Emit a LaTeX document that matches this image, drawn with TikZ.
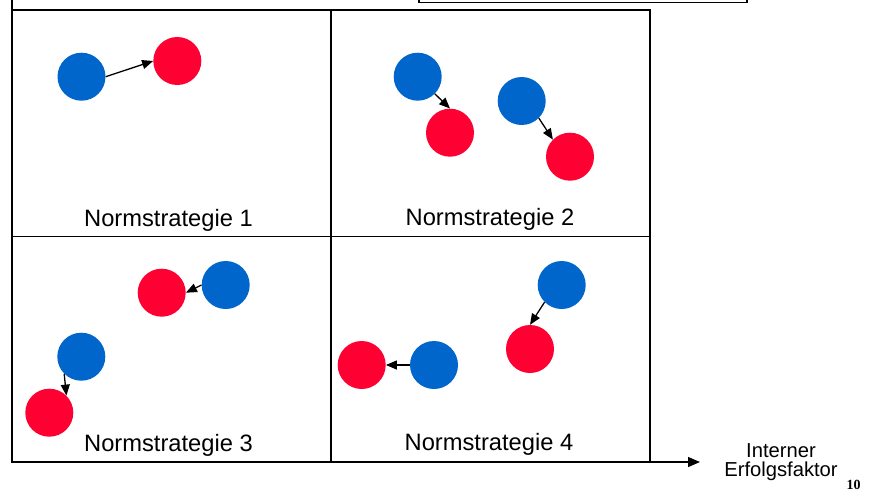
\documentclass[tikz,border=0pt]{standalone}
\usepackage{fontspec}
\setmainfont{Liberation Sans}
\newfontfamily\serifbold{Liberation Serif}
\usetikzlibrary{arrows.meta}

\begin{document}
\begin{tikzpicture}[x=1pt,y=-1pt,
		bluedot/.style={circle,fill={rgb,255:red,0;green,102;blue,204},minimum size=48pt,inner sep=0pt},
		reddot/.style={circle,fill={rgb,255:red,255;green,0;blue,51},minimum size=48pt,inner sep=0pt},
		move/.style={-{Triangle[length=11pt,width=9pt]},line width=1.3pt},
		label/.style={anchor=base,font=\fontsize{23.7}{28}\selectfont}]
			\useasboundingbox (0,0) rectangle (870,491);
			\draw[line width=1.3pt] (419,-5) rectangle (747,2.5);
			\draw[line width=1.3pt] (12,10) rectangle (650,462);
			\draw[line width=1.3pt] (331,10) -- (331,462);
			\draw[line width=1.3pt] (12,236.5) -- (650,236.5);
			\coordinate (o) at (12,462);
			\coordinate (top) at (12,0);
			\coordinate (xend) at (700,462);
			\draw[line width=1.3pt] (o) -- (top);
			\draw[line width=1.3pt,-{Triangle[length=12pt,width=10pt]}] (o) -- (xend);
			\node[anchor=base,align=center,font=\fontsize{20.2}{19.4}\selectfont] (xlab) at (781,476.7) {Interner\\Erfolgsfaktor};
			\node[anchor=base west,font=\fontsize{14}{14}\serifbold\bfseries] (page) at (843,489) {10};
			% Normstrategie 1
			\node[bluedot] (b1) at (81.5,76.7) {};
			\node[reddot] (r1) at (177.3,61) {};
			\draw[move] (b1.east) -- (r1.west);
			\node[label] (n1) at (168.5,226.7) {Normstrategie 1};
			% Normstrategie 2
			\node[bluedot] (b2) at (417.7,76.7) {};
			\node[reddot] (r2) at (450,132.7) {};
			\draw[move] (b2.-45) -- (r2.north);
			\node[bluedot] (b3) at (521.7,101) {};
			\node[reddot] (r3) at (570,156.7) {};
			\draw[move] (b3.-45) -- (r3.135);
			\node[label] (n2) at (490,225.7) {Normstrategie 2};
			% Normstrategie 3
			\node[bluedot] (b4) at (225.7,285) {};
			\node[reddot] (r4) at (161.7,292.7) {};
			\draw[move] (b4.west) -- (r4.east);
			\node[bluedot] (b5) at (81.3,356.7) {};
			\node[reddot] (r5) at (49.3,412.7) {};
			\draw[move] (b5.225) -- (r5.45);
			\node[label] (n3) at (168.5,451.5) {Normstrategie 3};
			% Normstrategie 4
			\node[bluedot] (b6) at (434,365) {};
			\node[reddot] (r6) at (361.7,365) {};
			\draw[move] (b6.west) -- (r6.east);
			\node[bluedot] (b7) at (561.7,285) {};
			\node[reddot] (r7) at (530,349) {};
			\draw[move] (b7.225) -- (r7.north);
			\node[label] (n4) at (489,450.5) {Normstrategie 4};
		\end{tikzpicture}
\end{document}
